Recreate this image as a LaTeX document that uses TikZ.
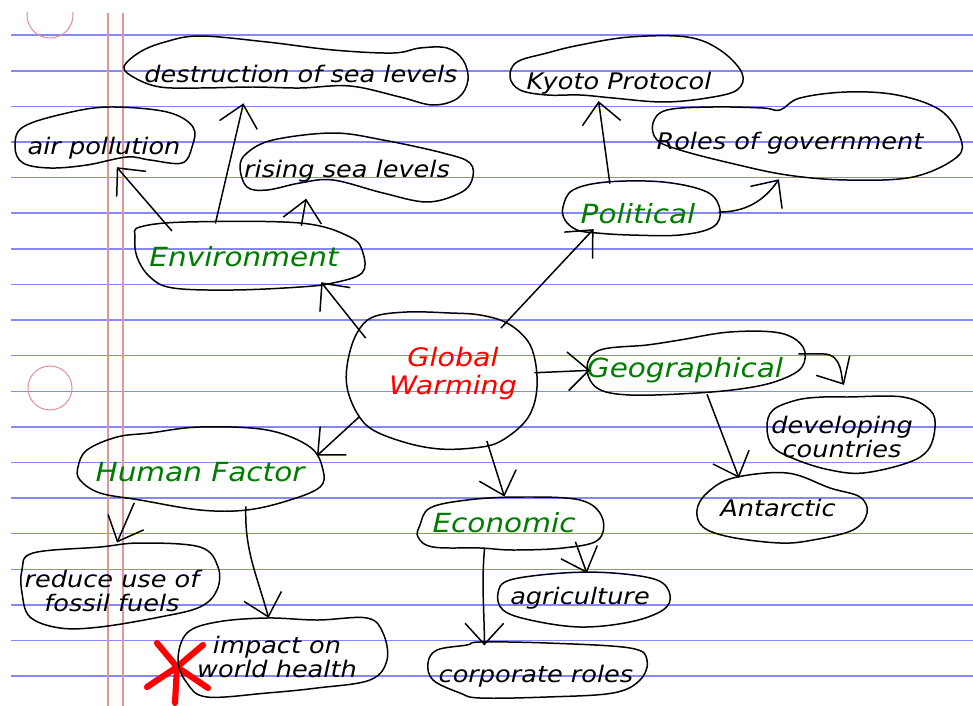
\documentclass[tikz,border=0pt]{standalone}
\usepackage{fontspec}
\newfontfamily\hand{DejaVu Sans}[FakeStretch=1.12]
\usetikzlibrary{shapes.geometric,arrows.meta}
\definecolor{ruleblue}{RGB}{135,135,250}
\definecolor{marginred}{RGB}{222,150,150}
\definecolor{labgreen}{RGB}{0,125,0}
\definecolor{labred}{RGB}{255,0,0}
\newlength\pxl \setlength\pxl{0.02cm}
\newcommand\tl[3]{\smash{\makebox[0pt]{\hspace*{\dimexpr #1\pxl*2\relax}\raisebox{\dimexpr -#2\pxl-0.25em-4\pxl\relax}{\begin{tabular}{@{}c@{}}#3\end{tabular}}}}}
\tikzset{
  blobnode/.style={shape=ellipse, inner sep=0pt, outer sep=0pt},
  blk/.style={blobnode, font=\hand\itshape\fontsize{13}{13.7}\selectfont, text=black},
  grn/.style={blobnode, font=\hand\itshape\fontsize{15}{16}\selectfont, text=labgreen},
  redl/.style={blobnode, font=\hand\itshape\fontsize{14.5}{16}\selectfont, text=labred},
  blobline/.style={draw=black, line width=0.85pt},
  conn/.style={draw=black, line width=0.85pt, line join=round, -{Straight Barb[length=12pt,width=22pt]}},
}
\begin{document}
\begin{tikzpicture}[x=0.02cm,y=-0.02cm]
\useasboundingbox (0,0) rectangle (973,706);
\fill[white] (0,0) rectangle (973,706);
% ruled paper
\foreach \k in {0,...,18} \draw[ruleblue, line width=0.8pt] (11,35.2+35.6*\k) -- (973,35.2+35.6*\k);
\draw[marginred, line width=0.6pt] (108,13) -- (108,706) (123,13) -- (123,706);
\begin{scope}
  \clip (0,13) rectangle (150,706);
  \draw[marginred, line width=0.6pt] (50,15) circle[radius=0.46cm];
  \draw[marginred, line width=0.6pt] (50,388) circle[radius=0.44cm];
\end{scope}
% red star
\draw[labred, line width=3.5pt, line cap=round] (177,667) -- (157,643) (177,667) -- (203,645) (177,667) -- (208,688) (177,667) -- (175,703) (177,667) -- (147,687);
% blob outlines
\draw[blobline] plot[smooth cycle, tension=0.6] coordinates {(124,67) (140,52) (165,42) (200,36) (267,42) (333,50) (393,53) (420,48) (447,48) (463,60) (468,80) (458,98) (433,105) (400,97) (350,86) (300,88) (253,87) (200,88) (160,87) (135,78)};
\draw[blobline] plot[smooth cycle, tension=0.6] coordinates {(15,147) (23,127) (67,113) (110,107) (167,112) (193,127) (192,147) (182,163) (150,160) (127,157) (87,165) (50,168) (23,163)};
\draw[blobline] plot[smooth cycle, tension=0.6] coordinates {(240,167) (247,153) (273,140) (333,133) (383,140) (443,153) (470,163) (472,180) (460,193) (427,202) (383,193) (333,180) (300,183) (267,190) (247,187)};
\draw[blobline] plot[smooth cycle, tension=0.6] coordinates {(140,227) (187,222) (300,223) (350,237) (363,253) (362,273) (333,283) (300,287) (233,290) (173,288) (150,277) (137,257) (135,237)};
\draw[blobline] plot[smooth cycle, tension=0.6] coordinates {(510,77) (517,62) (547,53) (580,45) (630,37) (687,37) (720,50) (742,73) (737,90) (707,98) (663,102) (613,98) (580,95) (547,95) (520,90)};
\draw[blobline] plot[smooth cycle, tension=0.6] coordinates {(653,123) (667,110) (713,107) (763,108) (780,110) (800,98) (847,92) (897,95) (940,110) (960,137) (957,157) (913,177) (847,180) (787,175) (730,163) (680,150) (657,140)};
\draw[blobline] plot[smooth cycle, tension=0.6] coordinates {(563,207) (573,190) (607,182) (663,182) (707,192) (720,210) (713,227) (680,235) (630,235) (597,233) (577,230) (565,220)};
\draw[blobline] plot[smooth cycle, tension=0.6] coordinates {(348,360) (357,333) (373,317) (407,312) (450,313) (480,315) (507,323) (527,340) (535,360) (537,387) (532,410) (520,427) (497,443) (473,448) (440,449) (407,443) (373,430) (357,413) (347,387)};
\draw[blobline] plot[smooth cycle, tension=0.6] coordinates {(587,367) (600,350) (647,345) (680,340) (730,332) (780,333) (803,347) (802,367) (780,380) (747,388) (697,393) (630,395) (597,388)};
\draw[blobline] plot[smooth cycle, tension=0.6] coordinates {(767,427) (773,410) (797,400) (823,397) (847,397) (903,397) (930,410) (935,427) (928,450) (907,463) (863,473) (830,470) (797,460) (773,447)};
\draw[blobline] plot[smooth cycle, tension=0.6] coordinates {(697,510) (707,493) (733,478) (787,473) (830,488) (860,497) (867,513) (853,530) (813,540) (780,543) (730,537) (703,527)};
\draw[blobline] plot[smooth cycle, tension=0.6] coordinates {(78,467) (87,450) (117,437) (150,433) (200,427) (267,430) (310,447) (323,470) (320,487) (290,500) (247,510) (200,510) (140,500) (100,493) (80,480)};
\draw[blobline] plot[smooth cycle, tension=0.6] coordinates {(420,525) (430,508) (467,500) (520,497) (580,500) (602,517) (598,540) (563,548) (513,550) (480,548) (433,547) (418,537)};
\draw[blobline] plot[smooth cycle, tension=0.6] coordinates {(498,593) (510,580) (563,573) (613,573) (657,580) (670,595) (663,610) (630,622) (580,627) (530,620) (503,610)};
\draw[blobline] plot[smooth cycle, tension=0.6] coordinates {(428,663) (437,650) (467,645) (480,642) (547,643) (630,648) (647,660) (640,680) (613,693) (547,697) (480,698) (460,693) (433,680)};
\draw[blobline] plot[smooth cycle, tension=0.6] coordinates {(22,570) (33,553) (100,547) (140,543) (200,547) (218,567) (217,590) (200,607) (160,617) (100,627) (60,628) (30,617) (22,593)};
\draw[blobline] plot[smooth cycle, tension=0.6] coordinates {(178,660) (187,633) (217,622) (267,618) (317,620) (367,618) (383,633) (387,660) (370,680) (317,688) (267,693) (207,697) (187,683)};
% nodes
\node[blk, minimum width=6.88cm, minimum height=1.38cm] (dest) at (296,70.5) {\tl{5}{2.5}{destruction of sea levels}};
\node[blk, minimum width=3.56cm, minimum height=1.22cm] (air) at (104,137) {\tl{0}{8}{air pollution}};
\node[blk, minimum width=4.64cm, minimum height=1.38cm] (rising) at (356,167.5) {\tl{-9}{0}{rising sea levels}};
\node[grn, minimum width=4.56cm, minimum height=1.36cm] (env) at (249,256) {\tl{-5}{0}{Environment}};
\node[blk, minimum width=4.64cm, minimum height=1.30cm] (kyoto) at (626,69.5) {\tl{-7}{10}{Kyoto Protocol}};
\node[blk, minimum width=6.14cm, minimum height=1.76cm] (roles) at (806,136) {\tl{-16}{4}{Roles of government}};
\node[grn, minimum width=3.14cm, minimum height=1.06cm] (pol) at (641,208) {\tl{-3}{5}{Political}};
\node[redl, minimum width=3.80cm, minimum height=2.76cm] (gw) at (440,381) {\tl{13}{-10}{Global\\Warming}};
\node[grn, minimum width=4.32cm, minimum height=1.26cm] (geo) at (695,363) {\tl{-10}{4}{Geographical}};
\node[blk, minimum width=3.36cm, minimum height=1.52cm] (dev) at (851,435) {\tl{-9}{1}{developing\\countries}};
\node[blk, minimum width=3.40cm, minimum height=1.40cm] (ant) at (782,508) {\tl{-4}{-1}{Antarctic}};
\node[grn, minimum width=4.90cm, minimum height=1.66cm] (hum) at (200,468) {\tl{0}{4}{Human Factor}};
\node[grn, minimum width=3.70cm, minimum height=1.06cm] (eco) at (510,523) {\tl{-6}{-1}{Economic}};
\node[blk, minimum width=3.44cm, minimum height=1.08cm] (agri) at (584,600) {\tl{-4}{-5}{agriculture}};
\node[blk, minimum width=4.38cm, minimum height=1.12cm] (corp) at (537,670) {\tl{-1}{3}{corporate roles}};
\node[blk, minimum width=3.92cm, minimum height=1.70cm] (red) at (120,585) {\tl{-8}{5}{reduce use of\\fossil fuels}};
\node[blk, minimum width=4.18cm, minimum height=1.58cm] (imp) at (282,657) {\tl{-5}{-1}{impact on\\world health}};
% connectors
\draw[conn] (gw.150) -- (env.-20);
\draw[conn] (gw.41) -- (pol.204);
\draw[conn] (gw.5) -- (geo.184);
\draw[conn] (gw.204) -- (hum.6);
\draw[conn] (gw.-52) -- (eco.102);
\draw[conn] (env.162) -- (air.-67);
\draw[conn] (env.136) -- (dest.212);
\draw[conn] (env.30) -- (rising.212);
\draw[conn] (pol.142) -- (kyoto.229);
\draw[conn] (pol.-3) to[out=0,in=-125] (roles.238);
\draw[conn, shorten >=0.28cm] (geo.5) -- ++(25,0) to[out=0,in=120] (dev.90);
\draw[conn] (geo.-69) -- (ant.145);
\draw[conn] (hum.208) -- (red.94);
\draw[conn] (hum.-40) to[out=-92,in=105] (imp.109);
\draw[conn] (eco.-16) -- (agri.84);
\draw[conn] (eco.225) to[out=-95,in=90] (corp.155);
\end{tikzpicture}
\end{document}
